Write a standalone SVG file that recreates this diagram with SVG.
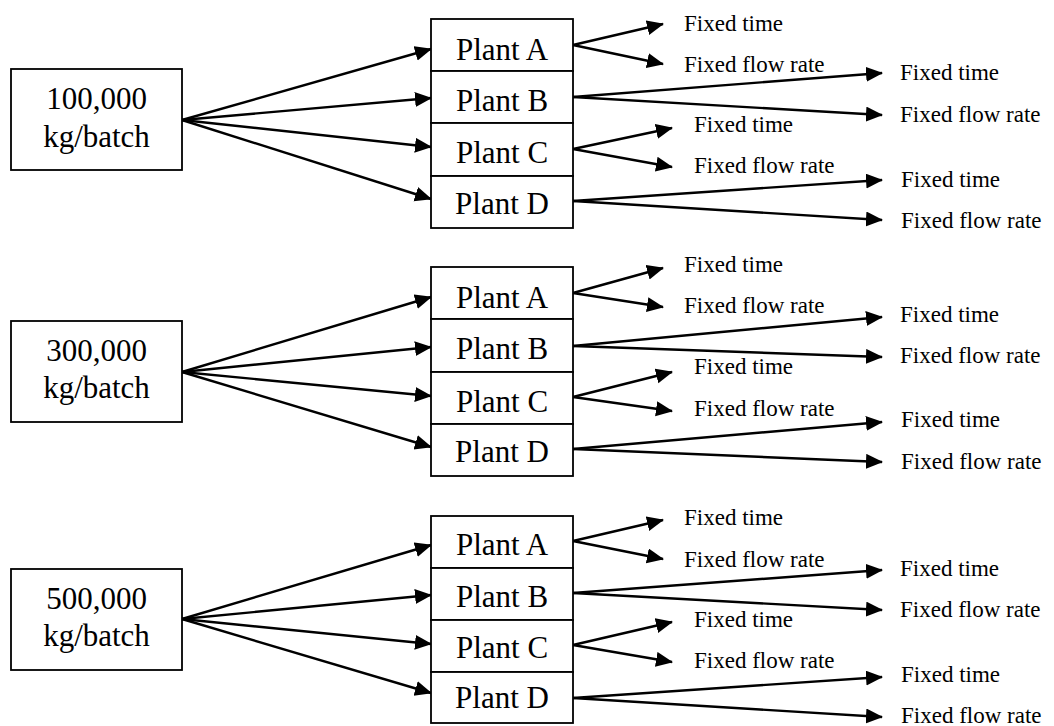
<svg xmlns="http://www.w3.org/2000/svg" width="1054" height="726" viewBox="0 0 1054 726">
  <style>
    .box { fill: #ffffff; stroke: #000000; stroke-width: 1.8; }
    .big { font-family: "Liberation Serif", "Times New Roman", serif; font-size: 31px; fill: #000000; text-anchor: middle; }
    .lbl { font-family: "Liberation Serif", "Times New Roman", serif; font-size: 23px; fill: #000000; }
    .edge { fill: none; stroke: #000000; stroke-width: 2.4; marker-end: url(#head); }
  </style>
  <defs>
    <marker id="head" markerUnits="userSpaceOnUse" markerWidth="18" markerHeight="16" refX="16" refY="7.5" orient="auto">
      <path d="M0,0 L17,7.5 L0,15 z" fill="#000000"/>
    </marker>
  </defs>
  <rect x="0" y="0" width="1054" height="726" fill="#ffffff"/>

  <!-- connectors -->
  <g id="connectors">
    <!-- batch 100,000 -->
    <line class="edge" x1="182" y1="120" x2="431" y2="49"/>
    <line class="edge" x1="182" y1="120" x2="431" y2="98"/>
    <line class="edge" x1="182" y1="120" x2="431" y2="147"/>
    <line class="edge" x1="182" y1="120" x2="431" y2="199"/>
    <line class="edge" x1="573" y1="45" x2="663" y2="24"/>
    <line class="edge" x1="573" y1="45" x2="663" y2="64"/>
    <line class="edge" x1="573" y1="97" x2="882" y2="73"/>
    <line class="edge" x1="573" y1="97" x2="882" y2="115"/>
    <line class="edge" x1="573" y1="149" x2="672" y2="128"/>
    <line class="edge" x1="573" y1="149" x2="672" y2="167"/>
    <line class="edge" x1="573" y1="201" x2="882" y2="180"/>
    <line class="edge" x1="573" y1="201" x2="882" y2="220"/>
    <!-- batch 300,000 -->
    <line class="edge" x1="182" y1="372" x2="431" y2="297"/>
    <line class="edge" x1="182" y1="372" x2="431" y2="347"/>
    <line class="edge" x1="182" y1="372" x2="431" y2="396"/>
    <line class="edge" x1="182" y1="372" x2="431" y2="447"/>
    <line class="edge" x1="573" y1="293" x2="663" y2="268"/>
    <line class="edge" x1="573" y1="293" x2="663" y2="307"/>
    <line class="edge" x1="573" y1="346" x2="882" y2="317"/>
    <line class="edge" x1="573" y1="346" x2="882" y2="357"/>
    <line class="edge" x1="573" y1="397" x2="672" y2="372"/>
    <line class="edge" x1="573" y1="397" x2="672" y2="411"/>
    <line class="edge" x1="573" y1="449" x2="882" y2="422"/>
    <line class="edge" x1="573" y1="449" x2="882" y2="462"/>
    <!-- batch 500,000 -->
    <line class="edge" x1="182" y1="619" x2="431" y2="545"/>
    <line class="edge" x1="182" y1="619" x2="431" y2="595"/>
    <line class="edge" x1="182" y1="619" x2="431" y2="644"/>
    <line class="edge" x1="182" y1="619" x2="431" y2="693"/>
    <line class="edge" x1="573" y1="541" x2="663" y2="520"/>
    <line class="edge" x1="573" y1="541" x2="663" y2="559"/>
    <line class="edge" x1="573" y1="593" x2="882" y2="570"/>
    <line class="edge" x1="573" y1="593" x2="882" y2="610"/>
    <line class="edge" x1="573" y1="645" x2="672" y2="622"/>
    <line class="edge" x1="573" y1="645" x2="672" y2="662"/>
    <line class="edge" x1="573" y1="698" x2="882" y2="677"/>
    <line class="edge" x1="573" y1="698" x2="882" y2="717"/>
  </g>

  <!-- batch size nodes -->
  <g id="batch-100000">
    <rect class="box" x="11" y="69" width="171" height="101"/>
    <text class="big" x="96.5" y="109">100,000</text>
    <text class="big" x="96.5" y="147">kg/batch</text>
  </g>
  <g id="batch-300000">
    <rect class="box" x="11" y="321" width="171" height="101"/>
    <text class="big" x="96.5" y="361">300,000</text>
    <text class="big" x="96.5" y="398">kg/batch</text>
  </g>
  <g id="batch-500000">
    <rect class="box" x="11" y="569" width="171" height="101"/>
    <text class="big" x="96.5" y="609">500,000</text>
    <text class="big" x="96.5" y="646">kg/batch</text>
  </g>

  <!-- plant nodes, first stack -->
  <g id="s1-plant-a"><rect class="box" x="431" y="19" width="142" height="52"/><text class="big" x="502" y="60">Plant A</text></g>
  <g id="s1-plant-b"><rect class="box" x="431" y="71" width="142" height="52"/><text class="big" x="502" y="111">Plant B</text></g>
  <g id="s1-plant-c"><rect class="box" x="431" y="123" width="142" height="53"/><text class="big" x="502" y="163">Plant C</text></g>
  <g id="s1-plant-d"><rect class="box" x="431" y="176" width="142" height="52"/><text class="big" x="502" y="214">Plant D</text></g>

  <!-- plant nodes, second stack -->
  <g id="s2-plant-a"><rect class="box" x="431" y="267" width="142" height="52"/><text class="big" x="502" y="308">Plant A</text></g>
  <g id="s2-plant-b"><rect class="box" x="431" y="319" width="142" height="53"/><text class="big" x="502" y="359">Plant B</text></g>
  <g id="s2-plant-c"><rect class="box" x="431" y="372" width="142" height="52"/><text class="big" x="502" y="412">Plant C</text></g>
  <g id="s2-plant-d"><rect class="box" x="431" y="424" width="142" height="52"/><text class="big" x="502" y="462">Plant D</text></g>

  <!-- plant nodes, third stack -->
  <g id="s3-plant-a"><rect class="box" x="431" y="516" width="142" height="52"/><text class="big" x="502" y="555">Plant A</text></g>
  <g id="s3-plant-b"><rect class="box" x="431" y="568" width="142" height="52"/><text class="big" x="502" y="607">Plant B</text></g>
  <g id="s3-plant-c"><rect class="box" x="431" y="620" width="142" height="52"/><text class="big" x="502" y="658">Plant C</text></g>
  <g id="s3-plant-d"><rect class="box" x="431" y="672" width="142" height="51"/><text class="big" x="502" y="708">Plant D</text></g>

  <!-- operating mode labels -->
  <g id="s1-modes">
    <text class="lbl" x="684" y="31">Fixed time</text>
    <text class="lbl" x="684" y="72">Fixed flow rate</text>
    <text class="lbl" x="900" y="80">Fixed time</text>
    <text class="lbl" x="900" y="122">Fixed flow rate</text>
    <text class="lbl" x="694" y="132">Fixed time</text>
    <text class="lbl" x="694" y="173">Fixed flow rate</text>
    <text class="lbl" x="901" y="187">Fixed time</text>
    <text class="lbl" x="901" y="228">Fixed flow rate</text>
  </g>
  <g id="s2-modes">
    <text class="lbl" x="684" y="272">Fixed time</text>
    <text class="lbl" x="684" y="313">Fixed flow rate</text>
    <text class="lbl" x="900" y="322">Fixed time</text>
    <text class="lbl" x="900" y="363">Fixed flow rate</text>
    <text class="lbl" x="694" y="374">Fixed time</text>
    <text class="lbl" x="694" y="416">Fixed flow rate</text>
    <text class="lbl" x="901" y="427">Fixed time</text>
    <text class="lbl" x="901" y="469">Fixed flow rate</text>
  </g>
  <g id="s3-modes">
    <text class="lbl" x="684" y="525">Fixed time</text>
    <text class="lbl" x="684" y="567">Fixed flow rate</text>
    <text class="lbl" x="900" y="576">Fixed time</text>
    <text class="lbl" x="900" y="617">Fixed flow rate</text>
    <text class="lbl" x="694" y="627">Fixed time</text>
    <text class="lbl" x="694" y="668">Fixed flow rate</text>
    <text class="lbl" x="901" y="682">Fixed time</text>
    <text class="lbl" x="901" y="723">Fixed flow rate</text>
  </g>
</svg>
